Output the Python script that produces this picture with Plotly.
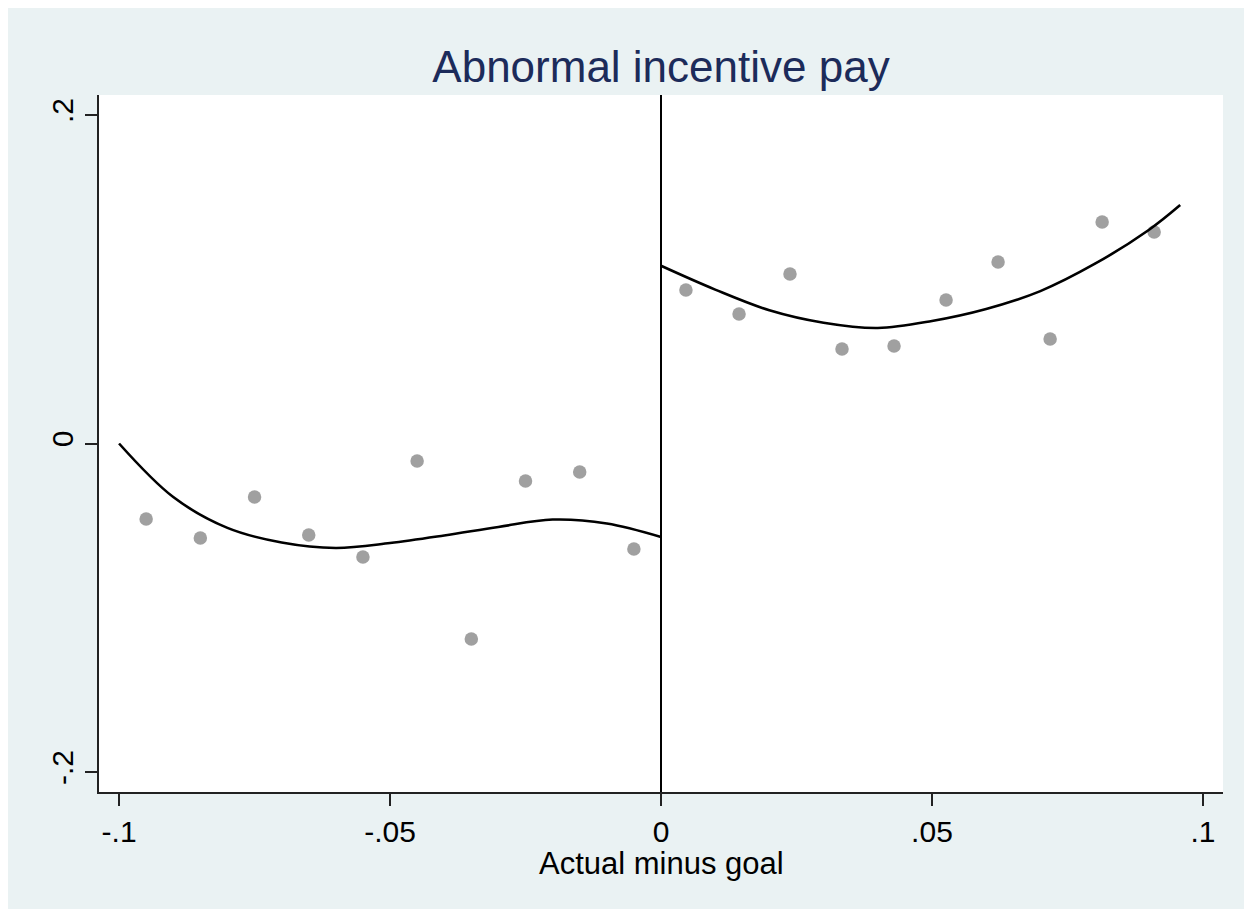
import plotly.graph_objects as go

# Binned means (scatter)
left_x = [-0.095, -0.085, -0.075, -0.065, -0.055, -0.045, -0.035, -0.025, -0.015, -0.005]
left_y = [-0.0460, -0.0575, -0.0326, -0.0557, -0.0691, -0.0107, -0.1190, -0.0228, -0.0174, -0.0642]
right_x = [0.0046, 0.0144, 0.0238, 0.0334, 0.0430, 0.0526, 0.0622, 0.0718, 0.0814, 0.0910]
right_y = [0.0935, 0.0788, 0.1032, 0.0575, 0.0594, 0.0874, 0.1105, 0.0636, 0.1349, 0.1288]

# Fitted polynomial curves
fit_left_x = [-0.1, -0.09, -0.08, -0.07, -0.06, -0.05, -0.04, -0.03, -0.02, -0.01, 0.0]
fit_left_y = [0.0, -0.0326, -0.0514, -0.0603, -0.0636, -0.0606, -0.0560, -0.0508, -0.0463,
              -0.0487, -0.0569]
fit_right_x = [0.0, 0.01, 0.02, 0.03, 0.04, 0.05, 0.06, 0.07, 0.08, 0.09, 0.0958]
fit_right_y = [0.1082, 0.0937, 0.0811, 0.0735, 0.0703, 0.0746, 0.0819, 0.0928, 0.1093, 0.1300,
               0.1452]

x_tick_vals = [-0.1, -0.05, 0, 0.05, 0.1]
x_tick_text = ["-.1", "-.05", "0", ".05", ".1"]
y_tick_vals = [-0.2, 0, 0.2]
y_tick_text = ["-.2", "0", ".2"]

title_text = "Abnormal incentive pay"
x_title = "Actual minus goal"

FONT = "Arial, 'Liberation Sans', sans-serif"
DOT = "#A0A0A0"

fig = go.Figure()
for xs, ys in [(left_x, left_y), (right_x, right_y)]:
    fig.add_trace(go.Scatter(x=xs, y=ys, mode="markers",
                             marker=dict(color=DOT, size=13.5, line=dict(width=0)),
                             showlegend=False, hoverinfo="skip"))
for xs, ys in [(fit_left_x, fit_left_y), (fit_right_x, fit_right_y)]:
    fig.add_trace(go.Scatter(x=xs, y=ys, mode="lines",
                             line=dict(color="black", width=2.6, shape="spline", smoothing=1.0),
                             showlegend=False, hoverinfo="skip"))

# vertical line at cutoff
fig.add_shape(type="line", xref="x", yref="paper", x0=0, x1=0, y0=0, y1=1,
              line=dict(color="black", width=2), layer="above")

# x-axis title as annotation for exact placement
fig.add_annotation(text=x_title, xref="paper", yref="paper", x=0.5, y=0,
                   xanchor="center", yanchor="top", yshift=-52, showarrow=False,
                   font=dict(size=31, color="black", family=FONT))

fig.update_layout(
    width=1252, height=909,
    margin=dict(l=91, r=37, t=87, b=125),
    paper_bgcolor="#EAF2F3",
    plot_bgcolor="white",
    font=dict(family=FONT, color="black"),
    title=dict(text=title_text, x=0.5, xref="paper", xanchor="center",
               y=1 - 58.5 / 909, yref="container", yanchor="middle",
               font=dict(size=44, color="#1C2B5A", family=FONT)),
    xaxis=dict(range=[-0.1037, 0.1037], tickvals=x_tick_vals, ticktext=x_tick_text,
               showgrid=False, zeroline=False, showline=True, linecolor="#222222", linewidth=2,
               ticks="outside", ticklen=12, tickwidth=2, tickcolor="#222222",
               tickfont=dict(size=30, color="black")),
    yaxis=dict(range=[-0.2122, 0.2122], tickvals=y_tick_vals, ticktext=y_tick_text,
               showgrid=False, zeroline=False, showline=True, linecolor="#222222", linewidth=2,
               ticks="outside", ticklen=12, tickwidth=2, tickcolor="#222222",
               tickangle=-90, tickfont=dict(size=30, color="black")),
)

fig.write_html("out.html")
